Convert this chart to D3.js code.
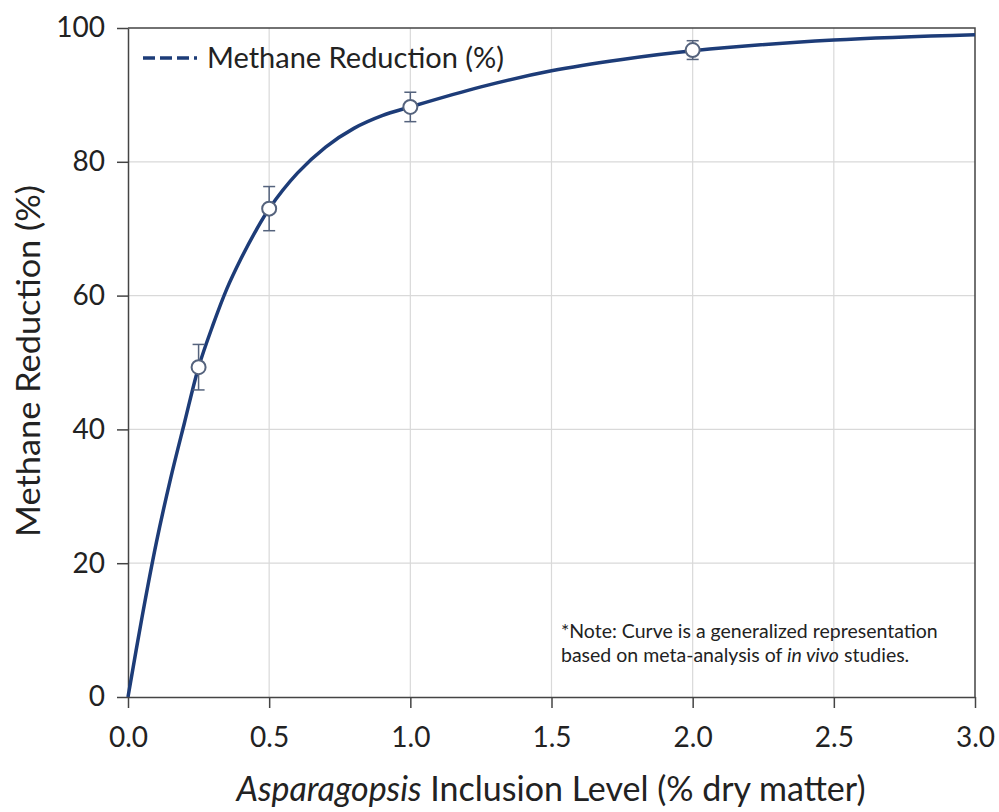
<!DOCTYPE html>
<html>
<head>
<meta charset="utf-8">
<script src="https://cdn.jsdelivr.net/npm/d3@7"></script>
<style>
	body { margin: 0; background: #fff; }
	svg text { font-family: Lato, "Open Sans", sans-serif; fill: #222; }
</style>
</head>
<body>
<div id="chart"></div>
<script>
// measured points with error bars
const levels = [0.25, 0.5, 1.0, 2.0];
const reduction = [49.3, 73.0, 88.2, 96.7];
const errors = [3.4, 3.3, 2.2, 1.4];

// generalized curve
const curveX = [0, 0.05, 0.1, 0.15, 0.2, 0.25, 0.3, 0.35, 0.4, 0.45, 0.5, 0.6, 0.7, 0.8, 0.9, 1.0, 1.25, 1.5, 1.75, 2.0, 2.5, 3.0];
const curveY = [0, 12, 23, 32.5, 41, 49.3, 55.5, 61, 65.5, 69.5, 73, 78.3, 82.2, 85, 86.9, 88.2, 91.2, 93.6, 95.3, 96.6, 98.2, 99.0];

const xTicks = [0, 0.5, 1.0, 1.5, 2.0, 2.5, 3.0];
const yTicks = [0, 20, 40, 60, 80, 100];

const width = 999, height = 812;
const margin = {top: 28, right: 24, bottom: 115, left: 128};
const innerW = width - margin.left - margin.right;
const innerH = height - margin.top - margin.bottom;

const navy = "#1d3c78";

const svg = d3.select("#chart").append("svg")
	.attr("width", width)
	.attr("height", height);

const g = svg.append("g").attr("transform", `translate(${margin.left},${margin.top})`);

const x = d3.scaleLinear().domain([0, 3]).range([0, innerW]);
const y = d3.scaleLinear().domain([0, 100]).range([innerH, 0]);

// grid
g.append("g").selectAll("line")
	.data(xTicks.slice(1, -1)).enter()
	.append("line")
	.attr("x1", d => x(d)).attr("x2", d => x(d))
	.attr("y1", 0).attr("y2", innerH)
	.attr("stroke", "#d9d9d9").attr("stroke-width", 1.2);
g.append("g").selectAll("line")
	.data(yTicks.slice(1, -1)).enter()
	.append("line")
	.attr("x1", 0).attr("x2", innerW)
	.attr("y1", d => y(d)).attr("y2", d => y(d))
	.attr("stroke", "#d9d9d9").attr("stroke-width", 1.2);

// frame top/right
g.append("path")
	.attr("d", `M0,0H${innerW}V${innerH}`)
	.attr("fill", "none").attr("stroke", "#444").attr("stroke-width", 1.5);

// axes
const xAxis = g.append("g")
	.attr("transform", `translate(0,${innerH})`)
	.call(d3.axisBottom(x).tickValues(xTicks).tickFormat(d3.format(".1f")).tickSize(11).tickSizeOuter(0));
const yAxis = g.append("g")
	.call(d3.axisLeft(y).tickValues(yTicks).tickSize(11).tickSizeOuter(0));

[xAxis, yAxis].forEach(a => {
	a.select(".domain").attr("stroke", "#444").attr("stroke-width", 1.5);
	a.selectAll(".tick line").attr("stroke", "#444").attr("stroke-width", 1.5);
	a.selectAll(".tick text").attr("font-size", 28).attr("fill", "#222");
});
xAxis.selectAll(".tick text").attr("y", 50).attr("dy", 0);
yAxis.selectAll(".tick text").attr("x", -23);

// curve
const line = d3.line()
	.x((d, i) => x(curveX[i]))
	.y(d => y(d))
	.curve(d3.curveCatmullRom.alpha(0.5));
g.append("path")
	.datum(curveY)
	.attr("d", line)
	.attr("fill", "none")
	.attr("stroke", navy)
	.attr("stroke-width", 3.5);

// error bars
const eb = g.append("g").selectAll("g")
	.data(levels).enter()
	.append("g")
	.attr("stroke", "#55637d").attr("stroke-width", 1.5);
eb.append("line")
	.attr("x1", d => x(d)).attr("x2", d => x(d))
	.attr("y1", (d, i) => y(reduction[i] + errors[i]))
	.attr("y2", (d, i) => y(reduction[i] - errors[i]));
eb.append("line")
	.attr("x1", d => x(d) - 6).attr("x2", d => x(d) + 6)
	.attr("y1", (d, i) => y(reduction[i] + errors[i]))
	.attr("y2", (d, i) => y(reduction[i] + errors[i]));
eb.append("line")
	.attr("x1", d => x(d) - 6).attr("x2", d => x(d) + 6)
	.attr("y1", (d, i) => y(reduction[i] - errors[i]))
	.attr("y2", (d, i) => y(reduction[i] - errors[i]));

// points
g.append("g").selectAll("circle")
	.data(levels).enter()
	.append("circle")
	.attr("cx", d => x(d))
	.attr("cy", (d, i) => y(reduction[i]))
	.attr("r", 7)
	.attr("fill", "#fff")
	.attr("stroke", "#55637d")
	.attr("stroke-width", 2);

// legend
const legend = g.append("g").attr("transform", "translate(15,30)");
legend.append("line")
	.attr("x1", 0).attr("x2", 54)
	.attr("stroke", navy).attr("stroke-width", 3.5)
	.attr("stroke-dasharray", "12,5");
legend.append("text")
	.attr("x", 64).attr("y", 10)
	.attr("font-size", 29)
	.text("Methane Reduction (%)");

// note
const note = g.append("text")
	.attr("x", 433).attr("y", 610)
	.attr("font-size", 19.5);
note.append("tspan").text("*Note: Curve is a generalized representation");
const l2 = note.append("tspan").attr("x", 433).attr("dy", 24);
l2.append("tspan").text("based on meta-analysis of ");
l2.append("tspan").attr("font-style", "italic").text("in vivo");
l2.append("tspan").text(" studies.");

// axis titles
const xt = svg.append("text")
	.attr("x", 551)
	.attr("y", 801)
	.attr("text-anchor", "middle")
	.attr("font-size", 34);
xt.append("tspan").attr("font-style", "italic").text("Asparagopsis");
xt.append("tspan").text(" Inclusion Level (% dry matter)");

svg.append("text")
	.attr("transform", `translate(40,361) rotate(-90)`)
	.attr("text-anchor", "middle")
	.attr("font-size", 32)
	.attr("textLength", 352)
	.attr("lengthAdjust", "spacingAndGlyphs")
	.text("Methane Reduction (%)");
</script>
</body>
</html>
